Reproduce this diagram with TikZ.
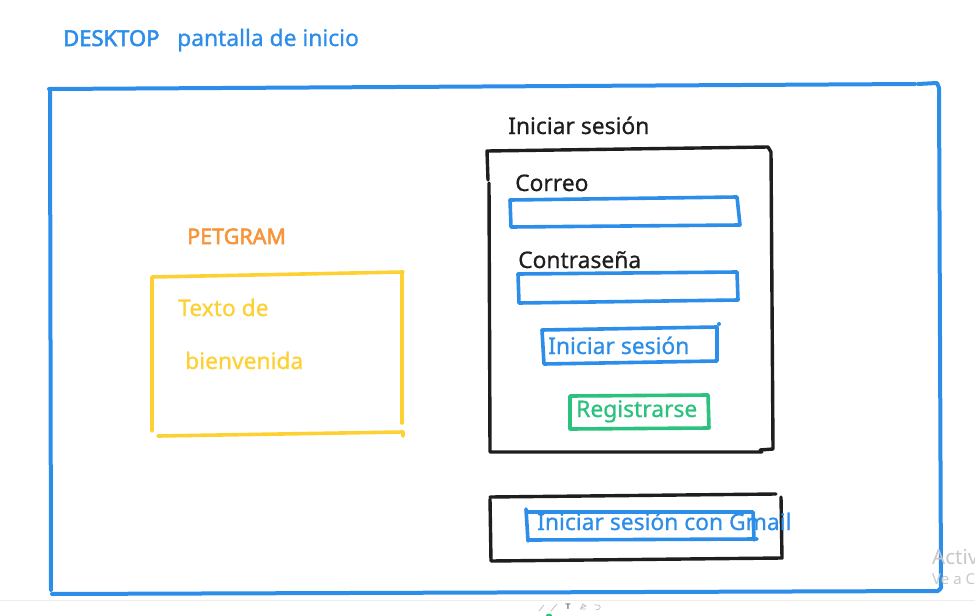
\documentclass[tikz,border=0pt]{standalone}
\usepackage{fontspec}
\setmainfont[FakeBold=0.7]{Noto Sans}
\newfontfamily\semib[FakeBold=2.5]{Noto Sans}
\definecolor{skblue}{HTML}{2D8EEA}
\definecolor{skblack}{HTML}{1E1E1E}
\definecolor{skyellow}{HTML}{FDD133}
\definecolor{skorange}{HTML}{F7953A}
\definecolor{skgreen}{HTML}{2BC17E}
\definecolor{skgray}{HTML}{C8C8C8}
\newfontfamily\wmfont{Noto Sans}
\tikzset{
  stroke/.style={line width=3.6pt, line cap=round, line join=round},
  lbl/.style={anchor=base west, inner sep=0pt, font=\fontsize{22.8}{26}\selectfont},
}
\begin{document}
\begin{tikzpicture}[x=1pt,y=-1pt]
\useasboundingbox[fill=white] (0,0) rectangle (975,616);
% title
\node[lbl, text=skblue, font=\fontsize{22}{26}\semib] (desk) at (63,46) {DESKTOP};
\node[lbl, text=skblue] (pant) at (177,46) {pantalla de inicio};
% outer frame
\draw[skblue, stroke, line width=4pt] (49,89) -- (915,84);
\draw[skblue, stroke, line width=4pt] (918,84) -- (937,83) -- (939,88);
\draw[skblue, stroke, line width=4pt] (939,88) -- (941,588) -- (938,591) -- (52,594);
\draw[skblue, stroke, line width=4pt] (51,590) -- (50,90);
% left panel
\node[lbl, text=skorange, font=\fontsize{21.5}{24}\semib] (pet) at (187,244) {PETGRAM};
\draw[skyellow, stroke] (152,431) -- (152,277) -- (403,272);
\draw[skyellow, stroke] (402,272) -- (402,423);
\draw[skyellow, stroke] (158,436) -- (403,432) -- (403,436);
\node[lbl, text=skyellow] (txt1) at (178,316) {Texto de};
\node[lbl, text=skyellow] (txt2) at (185,369) {bienvenida};
% login panel
\node[lbl, text=skblack] (ini) at (508,134) {Iniciar sesión};
\draw[skblack, stroke, line width=3.4pt] (488,180) -- (487,151) -- (768,147) -- (771,152) -- (773,449) -- (760,450);
\draw[skblack, stroke, line width=3.4pt] (489,183) -- (490,452) -- (762,452);
\node[lbl, text=skblack] (cor) at (515,191) {Correo};
\draw[skblue, stroke] (510,200) -- (737,197) -- (740,225) -- (511,227) -- cycle;
\node[lbl, text=skblack] (con) at (518,268) {Contraseña};
\draw[skblue, stroke] (518,274) -- (737,272) -- (738,300) -- (519,303) -- cycle;
\draw[skblue, stroke] (542,330) -- (717,327) -- (717,361) -- (544,364) -- cycle;
\fill[skblue] (719,324) circle (2pt);
\node[lbl, text=skblue] (btn) at (548,354) {Iniciar sesión};
\draw[skgreen, stroke] (570,396) -- (708,395) -- (709,428) -- (570,429) -- cycle;
\node[lbl, text=skgreen] (reg) at (576,417) {Registrarse};
% gmail
\draw[skblack, stroke, line width=3.4pt] (490,497) -- (776,494);
\draw[skblack, stroke, line width=3.4pt] (781,497) -- (782,558) -- (491,561) -- (490,499);
\draw[skblue, stroke] (526,509) -- (528,541);
\draw[skblue, stroke] (527,512) -- (753,512) -- (754,540);
\draw[skblue, stroke] (529,540) -- (757,539);
\node[lbl, text=skblue] (gm) at (537,530) {Iniciar sesión con Gmail};
% bottom strip
\draw[draw=black!7, line width=1pt] (0,600) -- (975,600);
\begin{scope}
\clip (0,0) rectangle (975,616);
\node[anchor=base west, inner sep=0pt, text=skgray, font=\fontsize{20.5}{22}\wmfont] (act) at (932,564) {Activ};
\node[anchor=base west, inner sep=0pt, text=skgray, font=\fontsize{15}{16}\wmfont] (vea) at (932,584) {Ve a C};
\fill[skgreen] (549,617) circle (3.5pt);
\end{scope}
\draw[black!25, line width=0.8pt] (539,611) -- (544,605);
\draw[black!25, line width=0.8pt] (551,611) -- (557,604);
\node[inner sep=0pt, text=black!60, font=\fontsize{8}{9}\bfseries\sffamily] (ticon) at (568,607) {T};
\draw[black!25, line width=0.8pt] (580,609) -- (586,609) (581,608) -- (583,604) -- (586,606) -- cycle;
\draw[black!25, line width=0.8pt] (594,605) -- (598,605) arc (90:-90:2.2pt) -- (596,609.4);
\end{tikzpicture}
\end{document}
